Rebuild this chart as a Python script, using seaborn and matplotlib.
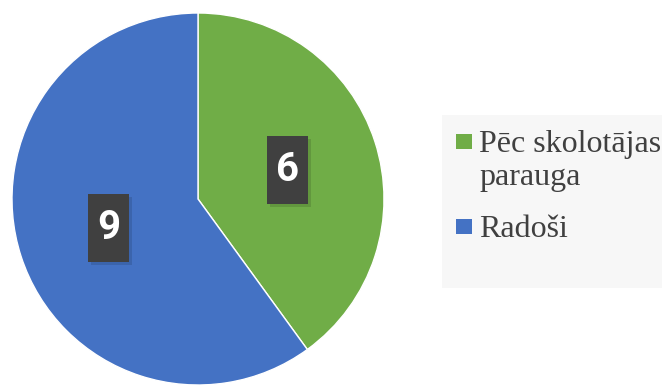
import matplotlib
matplotlib.use("Agg")
import matplotlib.pyplot as plt
import matplotlib.transforms as mtransforms
import seaborn as sns
from matplotlib.patches import Rectangle

# data
labels = ["Pēc skolotājas\nparauga", "Radoši"]
values = [6, 9]
colors = ["#70AD47", "#4472C4"]

sns.set_theme(style="white")
plt.rcParams["font.family"] = ["DejaVu Sans"]

W, H = 662, 386
fig = plt.figure(figsize=(W / 100, H / 100), dpi=100)
ax = fig.add_axes([12 / W, 1 / H, 372 / W, 372 / H])

wedges, texts = ax.pie(
    values, colors=colors, startangle=90, counterclock=False,
    labels=[str(v) for v in values], labeldistance=0.505,
    wedgeprops={"edgecolor": "white", "linewidth": 1},
)
# dark label boxes (narrow and tall) with a soft drop shadow
for t in texts:
    x, y = t.get_position()
    base = mtransforms.ScaledTranslation(x, y, ax.transData)
    for dx, dy, fc, a, z in [(0.03, -0.03, "#000000", 0.12, 3), (0, 0, "#404040", 1, 4)]:
        ax.add_patch(Rectangle((-0.205 + dx, -0.34 + dy), 0.41, 0.68,
                               transform=fig.dpi_scale_trans + base,
                               facecolor=fc, alpha=a, edgecolor="none", zorder=z))
    t.set_ha("center")
    t.set_va("center")
    t.set_color("white")
    t.set_family("Roboto")
    t.set_fontsize(29)
    t.set_fontweight("bold")
    t.set_zorder(5)
ax.set_xlim(-1, 1)
ax.set_ylim(-1, 1)
ax.set_aspect("equal")
ax.axis("off")

# legend: light panel, square markers aligned with first text line
fig.patches.append(Rectangle((442 / W, 1 - 288 / H), 220 / W, 173 / H,
                             transform=fig.transFigure, facecolor="#F7F7F7",
                             edgecolor="none", zorder=0))
entry_top = [134, 219]  # marker top, pixels from top
for wedge, label, top in zip(wedges, labels, entry_top):
    fig.patches.append(Rectangle((456 / W, 1 - (top + 15) / H), 16 / W, 15 / H,
                                 transform=fig.transFigure,
                                 facecolor=wedge.get_facecolor(), edgecolor="none"))
    for i, line in enumerate(label.split("\n")):
        fig.text(479 / W, 1 - (top + 18 + 33 * i) / H, line, ha="left", va="baseline",
                 family="Liberation Serif", fontsize=23, color="#404040")

fig.savefig("out.png", dpi=100)
